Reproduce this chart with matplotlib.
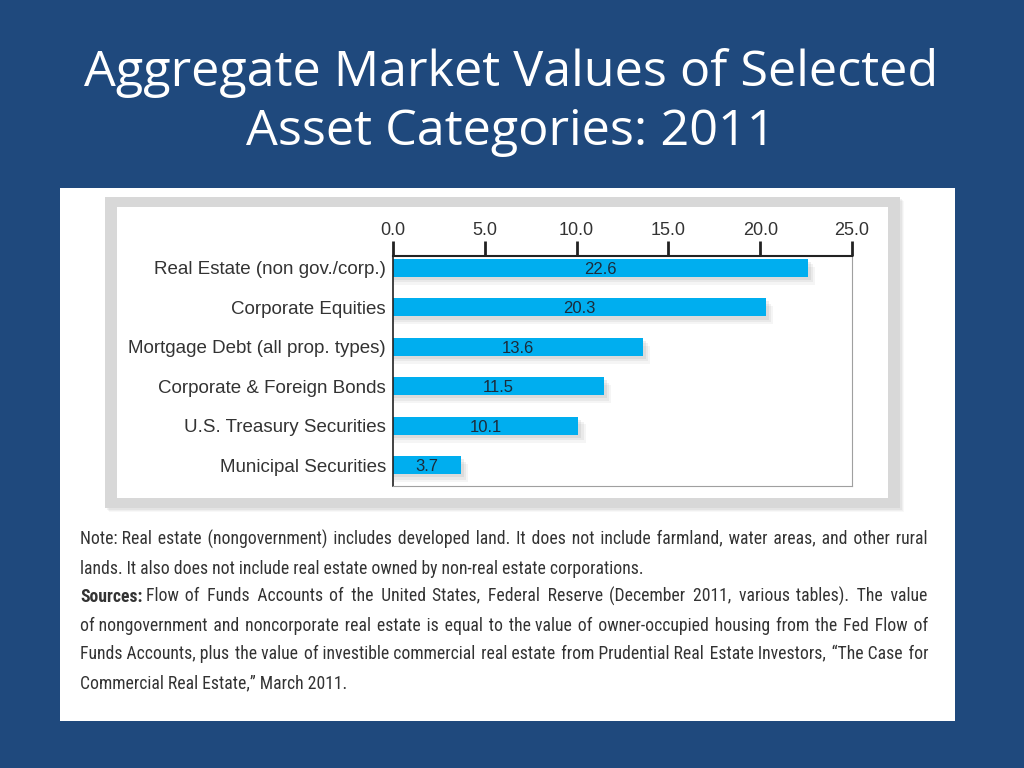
import matplotlib
matplotlib.use('Agg')
import matplotlib.pyplot as plt
from matplotlib import font_manager
from matplotlib.font_manager import FontProperties
from matplotlib.patches import Rectangle

# data
categories = ['Real Estate (non gov./corp.)', 'Corporate Equities',
              'Mortgage Debt (all prop. types)', 'Corporate & Foreign Bonds',
              'U.S. Treasury Securities', 'Municipal Securities']
values = [22.6, 20.3, 13.6, 11.5, 10.1, 3.7]
xticks = [0.0, 5.0, 10.0, 15.0, 20.0, 25.0]

title_lines = ['Aggregate Market Values of Selected', 'Asset Categories: 2011']
note_lines = [
    'Note: Real estate (nongovernment) includes developed land. It does not include farmland, water areas, and other rural',
    'lands. It also does not include real estate owned by non-real estate corporations.',
    'Flow of Funds Accounts of the United States, Federal Reserve (December 2011, various tables). The value',
    'of nongovernment and noncorporate real estate is equal to the value of owner-occupied housing from the Fed Flow of',
    'Funds Accounts, plus the value of investible commercial real estate from Prudential Real Estate Investors, \u201cThe Case for',
    'Commercial Real Estate,\u201d March 2011.',
]
justified = [True, False, True, True, True, False]
sources_label = 'Sources:'

W, H = 1024, 768
BG = '#1f497d'
BAR = '#00aeef'


def fx(x):
    return x / W


def fy(y):
    return 1 - y / H


# look for a condensed font for the note, else plain Liberation Sans
def pick_narrow():
    fl = font_manager.fontManager.ttflist
    cands = [f for f in fl if 'Narrow' in f.name or 'Condensed' in f.name
             or f.stretch in ('condensed', 'semi-condensed', 'extra-condensed')]
    order = ['Liberation Sans Narrow', 'Roboto Condensed', 'DejaVu Sans']
    cands.sort(key=lambda f: order.index(f.name) if f.name in order else 9)
    reg = [f for f in cands if f.style == 'normal' and f.weight in (400, 'normal', 'regular')]
    if not reg:
        return FontProperties(family='Liberation Sans'), FontProperties(family='Liberation Sans', weight='bold')
    r = reg[0]
    bold = [f for f in cands if f.name == r.name and f.style == 'normal'
            and f.weight in (700, 'bold') and f.stretch == r.stretch]
    rp = FontProperties(fname=r.fname)
    bp = FontProperties(fname=bold[0].fname) if bold else FontProperties(fname=r.fname, weight='bold')
    return rp, bp


note_fp, note_bold = pick_narrow()

fig = plt.figure(figsize=(W / 100, H / 100), dpi=100, facecolor=BG)

# title
fig.text(fx(511), fy(86), title_lines[0], color='white', fontsize=36.3,
         family='Open Sans', ha='center', va='baseline')
fig.text(fx(511), fy(145), title_lines[1], color='white', fontsize=36.3,
         family='Open Sans', ha='center', va='baseline')

# white panel + gray frame
fig.patches.append(Rectangle((fx(60), fy(721)), fx(895), 533 / H,
                             transform=fig.transFigure, facecolor='white',
                             edgecolor='none', zorder=0))
for i, a in enumerate([0.05, 0.07, 0.09]):
    d = 4 - i
    fig.patches.append(Rectangle((fx(105 + d), fy(508 + d)), fx(795), 311 / H,
                                 transform=fig.transFigure, facecolor='#808080',
                                 alpha=a, edgecolor='none', zorder=0.5))
fig.patches.append(Rectangle((fx(105), fy(508)), fx(795), 311 / H,
                             transform=fig.transFigure, facecolor='#d8d8d8',
                             edgecolor='none', zorder=1))
fig.patches.append(Rectangle((fx(117), fy(498)), fx(771), 291 / H,
                             transform=fig.transFigure, facecolor='white',
                             edgecolor='none', zorder=1.5))

# chart
ax = fig.add_axes([fx(393), fy(486), fx(852 - 393), (486 - 256) / H])
ax.set_zorder(2)
ax.set_facecolor('white')
y = list(range(len(categories)))
h = 0.46
for k, a in enumerate([0.06, 0.08, 0.10]):
    off = 0.08 + 0.06 * (2 - k)
    ax.barh([v + off for v in y], [v + off * 2 for v in values], height=h,
            color='#606060', alpha=a, zorder=1)
ax.barh(y, values, height=h, color=BAR, zorder=2)
for yi, v in zip(y, values):
    ax.text(v / 2, yi + 0.04, f'{v:.1f}', ha='center', va='center',
            fontsize=12, color='#1c2b3a', family='Liberation Sans', zorder=3)

ax.set_xlim(0, 25)
ax.set_ylim(5.53, -0.3)
ax.set_xticks(xticks)
ax.set_xticklabels([f'{t:.1f}' for t in xticks], family='Liberation Sans',
                   fontsize=13, color='#333333')
ax.xaxis.tick_top()
ax.tick_params(axis='x', direction='out', length=11, width=2, pad=1, colors='#222222')
ax.tick_params(axis='x', labelcolor='#333333')
ax.set_yticks(y)
ax.set_yticklabels(categories, family='Liberation Sans', fontsize=13.5, color='#333333')
ax.tick_params(axis='y', length=0, pad=5)
ax.spines['top'].set_color('#222222')
ax.spines['top'].set_linewidth(1.5)
ax.spines['left'].set_color('#222222')
ax.spines['left'].set_linewidth(1.2)
ax.spines['right'].set_color('#a0a0a0')
ax.spines['bottom'].set_color('#a0a0a0')

# note: one text per line, justified by padding the word gaps with spaces
renderer = fig.canvas.get_renderer()
x0, x1 = 80, 928
base = 545
step = 28.6


def width_of(s, fp):
    t = fig.text(0, 0, s, fontproperties=fp)
    w = t.get_window_extent(renderer).width
    t.remove()
    return w


fs = 14.0
note_fp.set_size(fs)
note_bold.set_size(fs)
fs = min(14.0, fs * (x1 - x0) * 0.97 / width_of(note_lines[0], note_fp))
note_fp.set_size(fs)
note_bold.set_size(fs)

space = width_of('a a', note_fp) - width_of('aa', note_fp)
fill = '\u200a'
hs = width_of('a' + fill + 'a', note_fp) - width_of('aa', note_fp)
if not (0.5 < hs < space):
    fill, hs = ' ', space

lab_w = width_of(sources_label + ' ', note_bold)

for i, (line, just) in enumerate(zip(note_lines, justified)):
    yb = base + i * step
    lx = x0
    if i == 2:
        fig.text(fx(x0), fy(yb), sources_label, fontproperties=note_bold,
                 color='#333333', va='baseline', zorder=5)
        lx = x0 + lab_w
    text = line
    if just:
        words = line.split(' ')
        n = len(words) - 1
        deficit = (x1 - lx) - width_of(line, note_fp)
        m = max(0, int(round(deficit / hs)))
        parts = [words[0]]
        for g in range(n):
            k = (m * (g + 1)) // n - (m * g) // n
            parts.append(' ' + fill * k + words[g + 1])
        text = ''.join(parts)
    fig.text(fx(lx), fy(yb), text, fontproperties=note_fp, color='#333333',
             va='baseline', zorder=5)

fig.savefig('out.png', dpi=100, facecolor=BG)
